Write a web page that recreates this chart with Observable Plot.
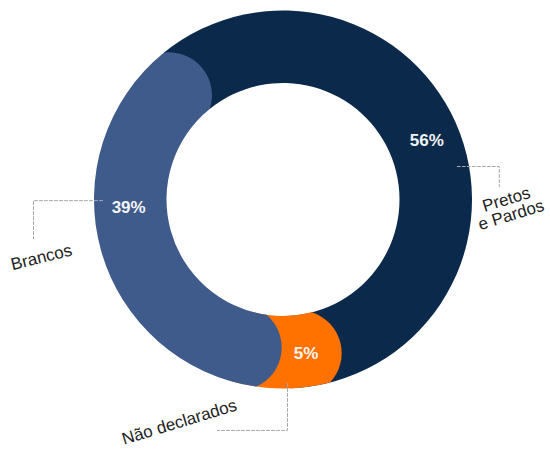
<!DOCTYPE html>
<html>
<head>
<meta charset="utf-8">
<script src="https://cdn.jsdelivr.net/npm/d3@7"></script>
<script src="https://cdn.jsdelivr.net/npm/@observablehq/plot@0.6"></script>
<style>
html,body{margin:0;padding:0;background:#fff;}
#chart svg{display:block;}
</style>
</head>
<body>
<div id="chart"></div>
<script>
// ---- data ----
const categories = ["Pretos e Pardos", "Não declarados", "Brancos"];
const shares = [56, 5, 39];
const shareLabels = ["56%", "5%", "39%"];
const nameLabels = ["Pretos\ne Pardos", "Não declarados", "Brancos"];

// ---- styling / layout ----
const colors = ["#0b2a4b", "#ff7200", "#3e5b8c"];
const L = {
  cx: 283, cy: 199.5, rOuter: 189, rInner: 116.5,
  startDeg: -39, bulge: 20,
  capInset: [0, 0.4, 1],
  labelAngleShift: [5.8, 0, 16.4], labelRadius: 155,
  leaders: [
    {angle: 79.1, r: 177, steps: [[42, 0], [0, 20]], name: [9.5, 21], rot: -17},
    {angle: 178.75, r: 183.5, steps: [[0, 47], [-70, 0]], name: [-38, -8], rot: -17},
    {angle: 269.8, r: 181, steps: [[-69, 0], [0, 38]], name: [8, 19], rot: -14}
  ]
};

const rad = d => d * Math.PI / 180;
const pie = d3.pie().sort(null).value(d => d)
  .startAngle(rad(L.startDeg)).endAngle(rad(L.startDeg + 360));
const arcs = pie(shares);
const rows = categories.map((c, i) => ({
  category: c, share: shares[i], label: shareLabels[i],
  a0: arcs[i].startAngle, a1: arcs[i].endAngle, i
}));
const polar = (r, a) => [L.cx + r * Math.sin(a), L.cy - r * Math.cos(a)];

// value labels
const valueRows = rows.map((d, i) => {
  const a = (d.a0 + d.a1) / 2 + rad(L.labelAngleShift[i]);
  const [x, y] = polar(L.labelRadius, a);
  return {x, y, text: d.label};
});

// leader lines and names
const leaderPts = [];
const nameRows = [];
rows.forEach((d, i) => {
  const ld = L.leaders[i];
  let [x, y] = polar(ld.r, rad(ld.angle));
  leaderPts.push({category: d.category, x, y});
  for (const [dx, dy] of ld.steps) {
    x += dx; y += dy;
    leaderPts.push({category: d.category, x, y});
  }
  nameRows.push({x: x + ld.name[0], y: y + ld.name[1], text: nameLabels[i], rot: ld.rot});
});

// ring render mark (rounded-cap segments)
function ring(index, scales) {
  const C = [scales.x(L.cx), scales.y(L.cy)];
  const k = scales.x(L.cx + 1) - scales.x(L.cx);
  const Ro = L.rOuter * k, Ri = L.rInner * k, Rm = (Ro + Ri) / 2;
  const h = (Ro - Ri) / 2, b = L.bulge * k, Rc = (h * h + b * b) / (2 * b);
  const delta = b / Rm;
  const P = (r, a) => [C[0] + r * Math.sin(a), C[1] - r * Math.cos(a)];
  const g = d3.create("svg:g");
  rows.forEach((d, i) => {
    const s = d.a0 + L.capInset[i] * delta;
    const e = i === rows.length - 1 ? d.a1 : d.a1 + 2 * delta;
    const large = (e - s) > Math.PI ? 1 : 0;
    const p1 = P(Ro, s), p2 = P(Ro, e), p3 = P(Ri, e), p4 = P(Ri, s);
    const path = `M${p1}A${Ro},${Ro} 0 ${large} 1 ${p2}` +
      `A${Rc},${Rc} 0 0 1 ${p3}` +
      `A${Ri},${Ri} 0 ${large} 0 ${p4}` +
      `A${Rc},${Rc} 0 0 1 ${p1}Z`;
    g.append("path").attr("d", path).attr("fill", colors[i]);
  });
  return g.node();
}

const chart = Plot.plot({
  width: 550, height: 449, margin: 0,
  x: {domain: [0, 550], range: [0, 550], axis: null},
  y: {domain: [0, 449], range: [0, 449], axis: null},
  style: {background: "white", fontFamily: "'Liberation Sans', Arial, sans-serif"},
  marks: [
    ring,
    Plot.line(leaderPts, {x: "x", y: "y", z: "category", stroke: "#a8a8a8", strokeWidth: 1, strokeDasharray: "3,2"}),
    Plot.text(valueRows, {x: "x", y: "y", text: "text", fill: "#f4f4f4", fontSize: 17, fontWeight: "bold"}),
    Plot.text(nameRows, {x: "x", y: "y", text: "text", rotate: "rot", fill: "#1e1e1e", fontSize: 17, lineHeight: 0.95})
  ]
});
document.getElementById("chart").append(chart);
</script>
</body>
</html>
